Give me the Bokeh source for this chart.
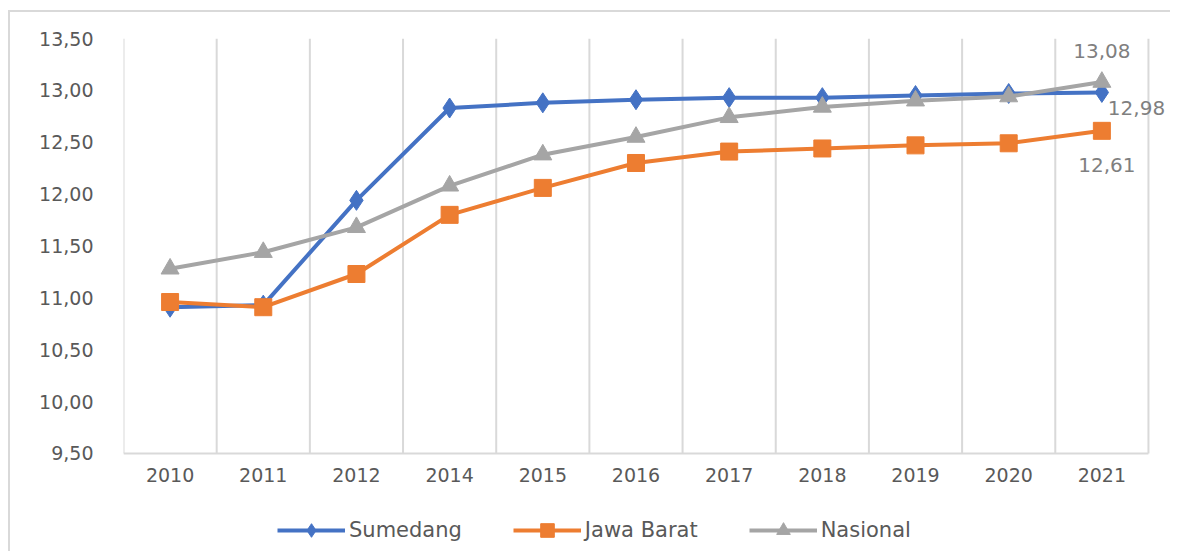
from bokeh.plotting import figure
from bokeh.models import FixedTicker, Legend, LegendItem, Label, Range1d
from bokeh.core.properties import value
from bokeh.embed import file_html
from bokeh.resources import INLINE

years = ["2010", "2011", "2012", "2014", "2015", "2016", "2017", "2018", "2019", "2020", "2021"]
sumedang = [10.91, 10.93, 11.94, 12.83, 12.88, 12.91, 12.93, 12.93, 12.95, 12.97, 12.98]
jawa_barat = [10.96, 10.91, 11.23, 11.80, 12.06, 12.30, 12.41, 12.44, 12.47, 12.49, 12.61]
nasional = [11.28, 11.44, 11.68, 12.08, 12.38, 12.55, 12.74, 12.84, 12.90, 12.94, 13.08]
y_ticks = [9.5, 10.0, 10.5, 11.0, 11.5, 12.0, 12.5, 13.0, 13.5]

FONT = "DejaVu Sans"
TXT = "#595959"
LBL = "#7f7f7f"
GRID = "#d9d9d9"

def fmt(v):
    return f"{v:.2f}".replace(".", ",")

n = len(years)
xs = [i + 0.5 for i in range(n)]
bounds = list(range(n + 1))
y0, y1 = y_ticks[0], y_ticks[-1]

# frame spans the plot plus the legend strip below and the label room on the right
p = figure(width=1162, height=541, output_backend="svg", toolbar_location=None,
           x_range=Range1d(0, n + 0.258), y_range=Range1d(y0 - 0.964, y1))
p.margin = (10, 0, 0, 8)
p.styles = {"border-top": "2px solid #d9d9d9", "border-left": "2px solid #d9d9d9"}
p.min_border_left = 113
p.min_border_right = 0
p.min_border_top = 26
p.min_border_bottom = 0
p.outline_line_color = None
p.background_fill_color = "white"
p.xaxis.visible = False
p.xgrid.grid_line_color = None
p.ygrid.grid_line_color = None

p.yaxis.ticker = FixedTicker(ticks=y_ticks)
p.yaxis.major_label_overrides = {t: fmt(t) for t in y_ticks}
p.yaxis.major_tick_line_color = None
p.yaxis.minor_tick_line_color = None
p.yaxis.axis_line_color = None
p.yaxis.major_label_text_font = FONT
p.yaxis.major_label_text_font_size = "19px"
p.yaxis.major_label_text_color = TXT
p.yaxis.major_label_standoff = 24

# category boundary grid lines and baseline
p.segment(x0=bounds, y0=[y0] * len(bounds), x1=bounds, y1=[y1] * len(bounds),
          line_color=GRID, line_width=2)
p.segment(x0=[bounds[0]], y0=[y0], x1=[bounds[-1]], y1=[y0], line_color=GRID, line_width=2)

# category labels
p.text(x=xs, y=[y0] * n, text=years, y_offset=15, text_align="center", text_baseline="top",
       text_font=value(FONT), text_font_size="19px", text_color=TXT)

series = [
    ("Sumedang", sumedang, "#4472C4", "diamond", 20),
    ("Jawa Barat", jawa_barat, "#ED7D31", "square", 17),
    ("Nasional", nasional, "#A5A5A5", "triangle", 18),
]
items = []
for name, vals, col, mk, sz in series:
    l = p.line(xs, vals, line_color=col, line_width=4)
    s = p.scatter(xs, vals, marker=mk, size=sz, fill_color=col, line_color=col)
    items.append(LegendItem(label=name, renderers=[l, s]))

legend = Legend(items=items, orientation="horizontal", location=(154, 6),
                label_text_font=FONT, label_text_font_size="21px", label_text_color=TXT,
                glyph_width=68, glyph_height=34, label_standoff=4, spacing=51,
                border_line_color=None, background_fill_alpha=0, margin=0, padding=0)
p.add_layout(legend)

p.add_layout(Label(x=xs[-1], y=nasional[-1], text=fmt(nasional[-1]), y_offset=24,
                   text_align="center", text_baseline="bottom", text_font=FONT,
                   text_font_size="20px", text_color=LBL))
p.add_layout(Label(x=xs[-1], y=sumedang[-1], text=fmt(sumedang[-1]), x_offset=6, y_offset=-16,
                   text_align="left", text_baseline="middle", text_font=FONT,
                   text_font_size="20px", text_color=LBL))
p.add_layout(Label(x=xs[-1], y=jawa_barat[-1], text=fmt(jawa_barat[-1]), x_offset=5, y_offset=-34,
                   text_align="center", text_baseline="middle", text_font=FONT,
                   text_font_size="20px", text_color=LBL))

open("out.html", "w").write(file_html(p, INLINE))
